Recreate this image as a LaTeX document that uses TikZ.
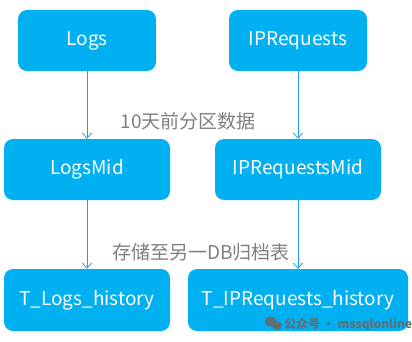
\documentclass[tikz,border=0pt]{standalone}
\usepackage{fontspec}
\setmainfont{Noto Sans CJK SC}
\usetikzlibrary{arrows.meta}
\definecolor{boxblue}{HTML}{00B0F0}
\definecolor{lineblue}{HTML}{1A9FE0}
\definecolor{notegray}{HTML}{7F7F7F}
\definecolor{markgray}{HTML}{5E6F78}
\tikzset{
    tablebox/.style = {fill = boxblue, rounded corners = 9pt, text = white, inner sep = 0pt,
        font = \fontsize{19}{21}\selectfont},
    flow/.style = {draw = lineblue, line width = 0.8pt, -{Straight Barb[length=5pt, width=9pt]}},
    note/.style = {text = notegray, font = \fontsize{19}{21}\selectfont}
}
\begin{document}
\begin{tikzpicture}[x = 1pt, y = -1pt]
                \path[use as bounding box](0,0)rectangle(412,342);
                % source tables
                \node[tablebox, minimum width = 138pt, minimum height = 61pt](Logs)at(87,40.5){Logs};
                \node[tablebox, minimum width = 138pt, minimum height = 61pt](IPRequests)at(298,40.5){IPRequests};
                % middle tables
                \node[tablebox, minimum width = 166pt, minimum height = 61pt](LogsMid)at(87,169.5){LogsMid};
                \node[tablebox, minimum width = 166pt, minimum height = 61pt](IPRequestsMid)at(298,169.5){IPRequestsMid};
                % history tables
                \node[tablebox, minimum width = 166pt, minimum height = 62pt](LogsHist)at(87,300){T\_Logs\_history};
                \node[tablebox, minimum width = 220pt, minimum height = 62pt](IPRequestsHist)at(298,300){T\_IPRequests\_history};
                % arrows
                \path[flow](Logs)to(LogsMid);
                \path[flow](IPRequests)to(IPRequestsMid);
                \path[flow](LogsMid)to(LogsHist);
                \path[flow](IPRequestsMid)to(IPRequestsHist);
                % notes
                \node[note](PartNote)at(188,121){10天前分区数据};
                \node[note](ArchNote)at(201,252){存储至另一DB归档表};
                % watermark
                \fill[markgray](270.5,321.5)ellipse(6pt and 5pt);
                \fill[markgray](277,325.5)ellipse(5pt and 4.2pt);
                \node[text = markgray, font = \fontsize{12}{14}\selectfont\bfseries, anchor = west, inner sep = 0pt](Mark)at(284,325){公众号 · mssqlonline};
            \end{tikzpicture}
\end{document}
